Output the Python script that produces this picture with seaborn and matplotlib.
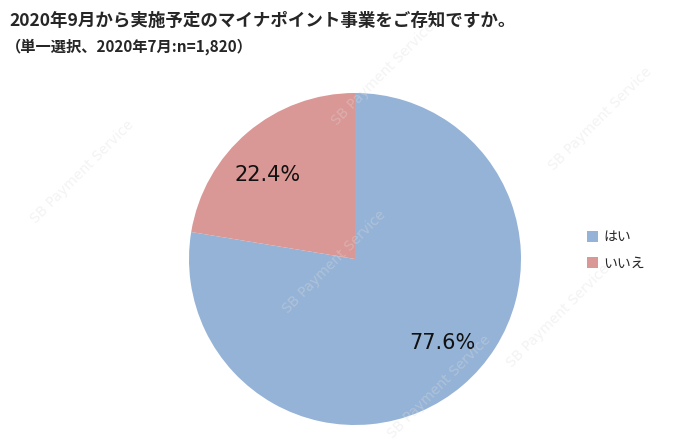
import matplotlib
matplotlib.use("Agg")
import matplotlib.pyplot as plt
import seaborn as sns
import numpy as np
from matplotlib.patches import Patch

labels = ["はい", "いいえ"]
shares = [77.6, 22.4]
colors = ["#95B3D7", "#D99795"]
title = "2020年9月から実施予定のマイナポイント事業をご存知ですか。"
subtitle = "（単一選択、2020年7月:n=1,820）"
watermark = "SB Payment Service"

sns.set_theme(style="white")
plt.rcParams["font.family"] = ["Noto Sans CJK JP", "DejaVu Sans"]

fig = plt.figure(figsize=(7, 4.47), dpi=100)
fig.patch.set_facecolor("white")

ax = fig.add_axes([(355 - 166) / 700, (188 - 166) / 447, 332 / 700, 332 / 447])
ax.patch.set_alpha(0)
wedges, texts = ax.pie(shares, colors=colors, startangle=90, counterclock=False,
                       radius=1.0, wedgeprops=dict(linewidth=0))
for w, s in zip(wedges, shares):
    # label sits a little counter-clockwise of the wedge middle, like the original
    ang = np.deg2rad((w.theta1 + w.theta2) / 2 + 6)
    ax.text(0.73 * np.cos(ang), 0.73 * np.sin(ang), f"{s:.1f}%", ha="center", va="center",
            fontsize=15, color="#111111", family=["DejaVu Sans"])
ax.set_xlim(-1, 1)
ax.set_ylim(-1, 1)
ax.set_aspect("equal")

# faint watermark, drawn over everything but barely visible
for (x, y) in [(0.47, 0.72), (0.78, 0.62), (0.04, 0.50), (0.40, 0.30),
               (0.72, 0.18), (0.55, 0.02)]:
    fig.text(x, y, watermark, rotation=45, fontsize=10, color="#dddddd", alpha=0.35,
             family=["DejaVu Sans"], zorder=5)

fig.text(0.014, 0.952, title, fontsize=12.6, fontweight="bold", va="center", ha="left")
fig.text(0.008, 0.895, subtitle, fontsize=11, fontweight="bold", va="center", ha="left")

handles = [Patch(facecolor=c, edgecolor="none") for c in colors]
fig.legend(handles, labels, loc="center left", bbox_to_anchor=(0.82, 0.44), frameon=False,
           fontsize=10, handlelength=0.8, handleheight=0.8, handletextpad=0.4, labelspacing=0.9)

fig.savefig("out.png", dpi=100, facecolor="white")
